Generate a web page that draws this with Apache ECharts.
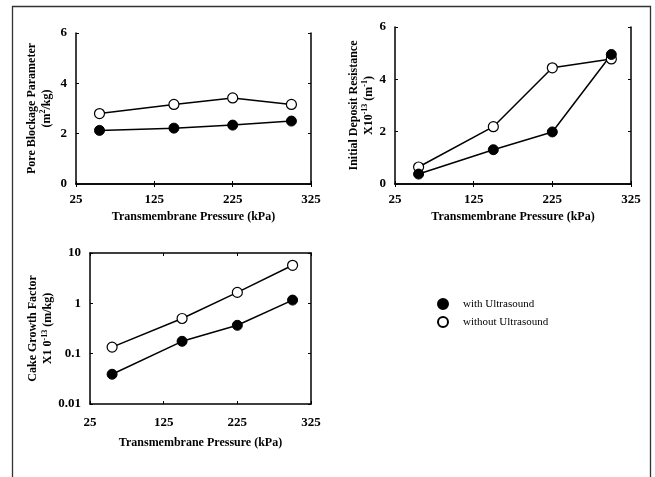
<!DOCTYPE html>
<html>
<head>
<meta charset="utf-8">
<script src="https://cdn.jsdelivr.net/npm/echarts@6/dist/echarts.min.js"></script>
<style>
html,body{margin:0;padding:0;background:#fff;}
#chart{width:655px;height:477px;}
</style>
</head>
<body>
<div id="chart"></div>
<script>
// ---- data ----
const pressure = [55, 150, 225, 300];
const xTicks = [25, 125, 225, 325];
const poreWith = [2.13, 2.22, 2.34, 2.50];
const poreWithout = [2.80, 3.16, 3.42, 3.16];
const depWith = [0.38, 1.31, 1.99, 4.95];
const depWithout = [0.65, 2.19, 4.44, 4.78];
const cakeWith = [0.039, 0.176, 0.366, 1.16];
const cakeWithout = [0.135, 0.50, 1.65, 5.7];
const seriesNames = ['with Ultrasound', 'without Ultrasound'];

const FONT = 'Liberation Serif';
const pairs = (ys) => pressure.map((x, i) => [x, ys[i]]);

const chart = echarts.init(document.getElementById('chart'), null, {renderer: 'canvas'});

const grids = [
  {left: 76, top: 33, width: 235, height: 151},
  {left: 395, top: 27, width: 236, height: 157},
  {left: 90, top: 253, width: 221, height: 151}
];

const lineAxis = {lineStyle: {color: '#000', width: 1.5}};
const tickIn = {inside: true, length: 3, lineStyle: {color: '#000', width: 1}};
const labelStyle = {fontFamily: FONT, fontWeight: 'bold', fontSize: 13, color: '#000'};
const xNameGaps = [27, 27, 33];
const xMargins = [9, 9, 12];

const xAxes = [];
grids.forEach((g, i) => {
  xAxes.push({
    type: 'value', gridIndex: i, position: 'bottom',
    min: xTicks[0], max: xTicks[xTicks.length - 1], interval: 100,
    axisLine: lineAxis, axisTick: tickIn, splitLine: {show: false},
    axisLabel: Object.assign({margin: xMargins[i]}, labelStyle),
    name: 'Transmembrane Pressure (kPa)', nameLocation: 'middle', nameGap: xNameGaps[i],
    nameTextStyle: {fontFamily: FONT, fontWeight: 'bold', fontSize: 12, color: '#000'}
  });
  xAxes.push({
    type: 'value', gridIndex: i, position: 'top',
    min: xTicks[0], max: xTicks[xTicks.length - 1], interval: 100,
    axisLine: lineAxis, axisTick: tickIn, splitLine: {show: false},
    axisLabel: {show: false}
  });
});

const richSup = {
  sup: {fontFamily: FONT, fontWeight: 'bold', fontSize: 8, color: '#000', verticalAlign: 'top', lineHeight: 15},
  n: {fontFamily: FONT, fontWeight: 'bold', fontSize: 12, color: '#000', lineHeight: 15}
};
const yNames = [
  '{n|Pore Blockage Parameter}\n{n|(m}{sup|2}{n|/kg)}',
  '{n|Initial Deposit Resistance}\n{n|X10}{sup|-13}{n| (m}{sup|-1}{n|)}',
  '{n|Cake Growth Factor}\n{n|X1 0}{sup|-13}{n| (m/kg)}'
];
const yNameGaps = [22, 19, 26];

const yAxes = [];
grids.forEach((g, i) => {
  const isLog = i === 2;
  const base = isLog
    ? {type: 'log', logBase: 10, min: 0.01, max: 10}
    : {type: 'value', min: 0, max: 6, interval: 2};
  yAxes.push(Object.assign({
    gridIndex: i, position: 'left',
    axisLine: lineAxis, axisTick: tickIn, splitLine: {show: false},
    axisLabel: Object.assign({margin: 9, formatter: (v) => isLog ? String(+v.toPrecision(3)) : String(v)}, labelStyle),
    name: yNames[i], nameLocation: 'middle', nameGap: yNameGaps[i], nameRotate: 90,
    nameTextStyle: {rich: richSup, align: 'center'}
  }, base));
  yAxes.push(Object.assign({
    gridIndex: i, position: 'right',
    axisLine: lineAxis, axisTick: tickIn, splitLine: {show: false},
    axisLabel: {show: false}
  }, base));
});

const datasets = [
  [poreWith, poreWithout],
  [depWith, depWithout],
  [cakeWith, cakeWithout]
];

const series = [];
datasets.forEach((d, i) => {
  // open circles first, filled on top
  series.push({
    name: seriesNames[1], type: 'line', xAxisIndex: i * 2, yAxisIndex: i * 2,
    data: pairs(d[1]), symbol: 'circle', symbolSize: 10,
    lineStyle: {color: '#000', width: 1.5},
    itemStyle: {color: '#fff', borderColor: '#000', borderWidth: 1.2},
    emphasis: {disabled: true}, animation: false
  });
  series.push({
    name: seriesNames[0], type: 'line', xAxisIndex: i * 2, yAxisIndex: i * 2,
    data: pairs(d[0]), symbol: 'circle', symbolSize: 10,
    lineStyle: {color: '#000', width: 1.5},
    itemStyle: {color: '#000', borderColor: '#000', borderWidth: 1},
    emphasis: {disabled: true}, animation: false
  });
});

chart.setOption({
  animation: false,
  backgroundColor: '#fff',
  grid: grids,
  xAxis: xAxes,
  yAxis: yAxes,
  legend: {
    data: seriesNames,
    orient: 'vertical', left: 432, top: 293,
    icon: 'circle', itemWidth: 10, itemHeight: 10, itemGap: 6,
    selectedMode: false,
    textStyle: {fontFamily: FONT, fontSize: 11, color: '#000', padding: [0, 0, 0, 10]}
  },
  graphic: [{
    type: 'rect', silent: true,
    shape: {x: 12.5, y: 6.5, width: 638, height: 490},
    style: {fill: 'none', stroke: '#333', lineWidth: 1.3}
  }],
  series: series
});
</script>
</body>
</html>
